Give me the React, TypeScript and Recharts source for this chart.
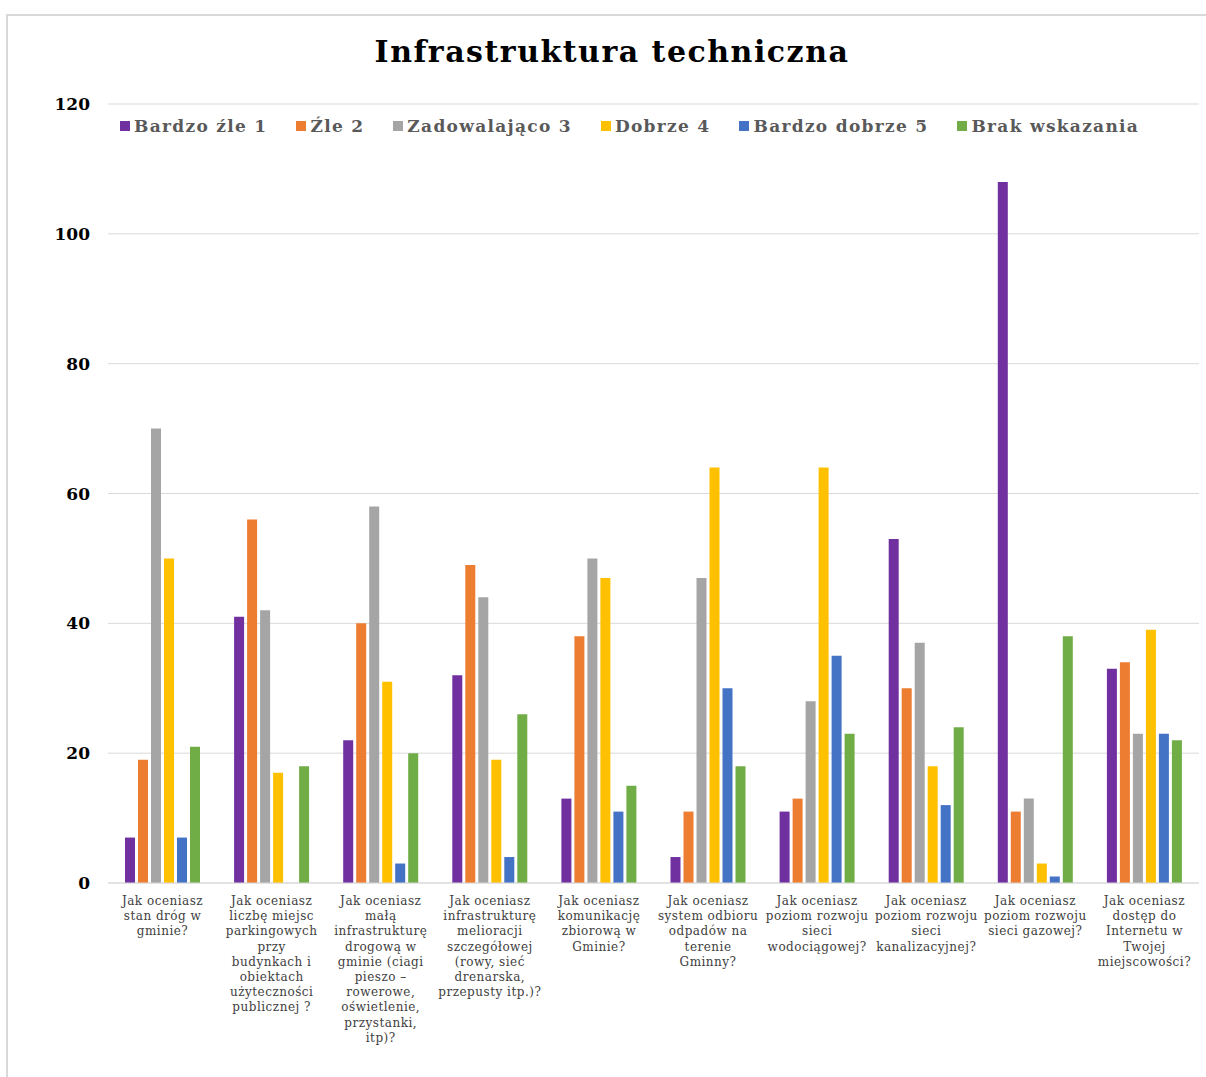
import { Bar, BarChart, CartesianGrid, Legend, XAxis, YAxis } from 'recharts';

const CATEGORIES = [
  'Jak oceniasz\nstan dróg w\ngminie?',
  'Jak oceniasz\nliczbę miejsc\nparkingowych\nprzy\nbudynkach i\nobiektach\nużyteczności\npublicznej ?',
  'Jak oceniasz\nmałą\ninfrastrukturę\ndrogową w\ngminie (ciagi\npieszo –\nrowerowe,\noświetlenie,\nprzystanki,\nitp)?',
  'Jak oceniasz\ninfrastrukturę\nmelioracji\nszczegółowej\n(rowy, sieć\ndrenarska,\nprzepusty itp.)?',
  'Jak oceniasz\nkomunikację\nzbiorową w\nGminie?',
  'Jak oceniasz\nsystem odbioru\nodpadów na\nterenie\nGminny?',
  'Jak oceniasz\npoziom rozwoju\nsieci\nwodociągowej?',
  'Jak oceniasz\npoziom rozwoju\nsieci\nkanalizacyjnej?',
  'Jak oceniasz\npoziom rozwoju\nsieci gazowej?',
  'Jak oceniasz\ndostęp do\nInternetu w\nTwojej\nmiejscowości?',
];

const SERIES_NAMES = ['Bardzo źle 1', 'Źle 2', 'Zadowalająco 3', 'Dobrze 4', 'Bardzo dobrze 5', 'Brak wskazania'];
const COLORS = ['#7030A0', '#ED7D31', '#A5A5A5', '#FFC000', '#4472C4', '#70AD47'];

const bardzoZle = [7, 41, 22, 32, 13, 4, 11, 53, 108, 33];
const zle = [19, 56, 40, 49, 38, 11, 13, 30, 11, 34];
const zadowalajaco = [70, 42, 58, 44, 50, 47, 28, 37, 13, 23];
const dobrze = [50, 17, 31, 19, 47, 64, 64, 18, 3, 39];
const bardzoDobrze = [7, 0, 3, 4, 11, 30, 35, 12, 1, 23];
const brakWskazania = [21, 18, 20, 26, 15, 18, 23, 24, 38, 22];

const Y_TICKS = [0, 20, 40, 60, 80, 100, 120];

const SERIES = [bardzoZle, zle, zadowalajaco, dobrze, bardzoDobrze, brakWskazania];

const data = CATEGORIES.map((cat, i) => {
  const row: Record<string, string | number> = { cat };
  SERIES_NAMES.forEach((name, s) => {
    row[name] = SERIES[s][i];
  });
  return row;
});

const SERIF = '"DejaVu Serif", "Liberation Serif", serif';

function CategoryTick({ x, y, payload }: { x?: number; y?: number; payload?: { value: string } }) {
  const lines = String(payload?.value ?? '').split('\n');
  return (
    <text
      x={x}
      y={(y ?? 0) + 14}
      textAnchor="middle"
      fontFamily={SERIF}
      fontSize={12}
      letterSpacing={0.5}
      fill="#404040"
    >
      {lines.map((line, i) => (
        <tspan key={i} x={x} dy={i === 0 ? 0 : 15.2}>
          {line}
        </tspan>
      ))}
    </text>
  );
}

function LegendContent() {
  return (
    <div
      style={{
        display: 'flex',
        fontFamily: SERIF,
        fontWeight: 'bold',
        fontSize: 17,
        letterSpacing: 1.3,
        color: '#595959',
      }}
    >
      {SERIES_NAMES.map((name, i) => (
        <div key={name} style={{ display: 'flex', alignItems: 'center', marginRight: 29 }}>
          <span style={{ width: 10, height: 10, background: COLORS[i], marginRight: 4, display: 'inline-block' }} />
          <span>{name}</span>
        </div>
      ))}
    </div>
  );
}

export default function App() {
  return (
    <div style={{ position: 'absolute', left: 0, top: 0, width: 1206, height: 1077, background: '#fff' }}>
      <div
        style={{
          position: 'absolute',
          left: 6,
          top: 14,
          width: 1200,
          height: 1063,
          borderTop: '2px solid #d9d9d9',
          borderLeft: '2px solid #d9d9d9',
        }}
      />
      <div
        style={{
          position: 'absolute',
          left: 0,
          top: 34,
          width: 1224,
          textAlign: 'center',
          fontFamily: SERIF,
          fontWeight: 'bold',
          fontSize: 30,
          letterSpacing: 1.5,
          color: '#000',
        }}
      >
        Infrastruktura techniczna
      </div>
      <BarChart
        width={1206}
        height={1077}
        data={data}
        margin={{ top: 104, right: 7, bottom: 4, left: 0 }}
        barSize={10}
        barGap={3}
        style={{ position: 'absolute', left: 0, top: 0 }}
      >
        <CartesianGrid stroke="#d9d9d9" vertical={false} />
        <XAxis
          dataKey="cat"
          interval={0}
          height={190}
          tickLine={false}
          axisLine={{ stroke: '#d9d9d9' }}
          tick={<CategoryTick />}
        />
        <YAxis
          domain={[0, 120]}
          ticks={Y_TICKS}
          width={108}
          tickLine={false}
          axisLine={false}
          tickMargin={12}
          tick={{ fontFamily: SERIF, fontWeight: 'bold', fontSize: 17, fill: '#000' }}
        />
        <Legend
          verticalAlign="middle"
          align="center"
          content={<LegendContent />}
          wrapperStyle={{ position: 'absolute', top: 116, left: 120, width: 'auto' }}
        />
        {SERIES_NAMES.map((name, i) => (
          <Bar key={name} dataKey={name} fill={COLORS[i]} isAnimationActive={false} />
        ))}
      </BarChart>
    </div>
  );
}
